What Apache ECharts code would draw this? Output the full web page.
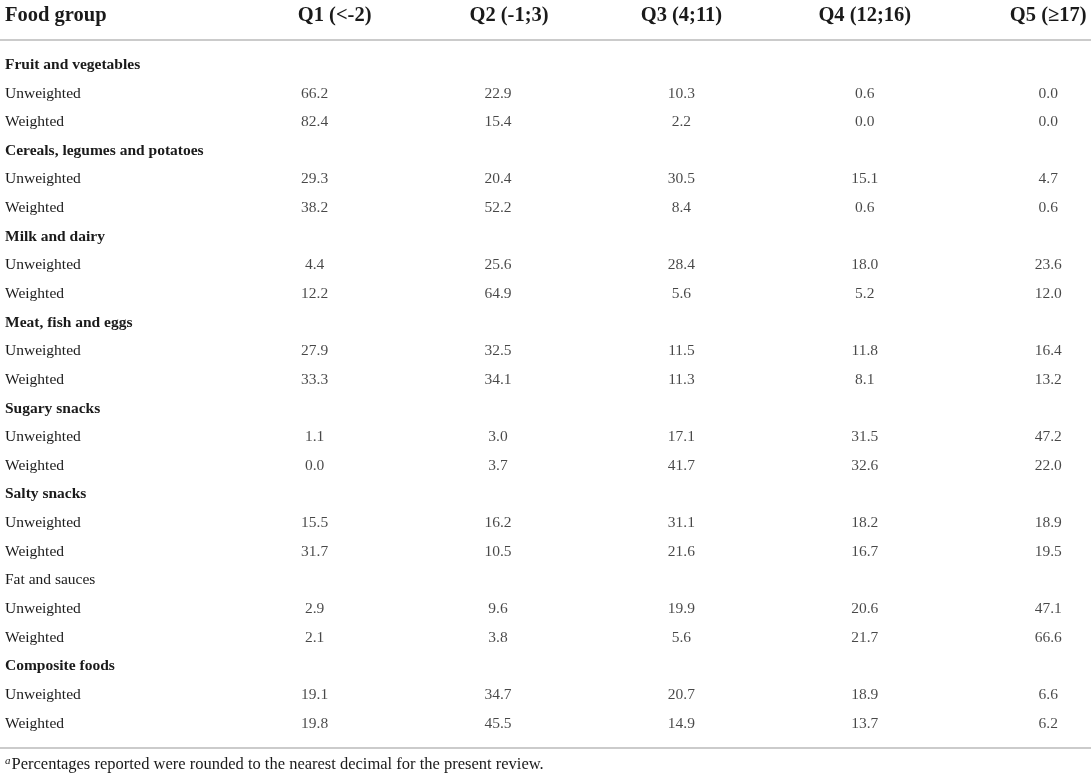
<!DOCTYPE html>
<html>
<head>
    <meta charset="utf-8">
    <title>Food group quintiles</title>
    <script src="https://cdn.jsdelivr.net/npm/echarts@6/dist/echarts.min.js"></script>
    <style>
        html, body { margin: 0; padding: 0; background: #fff; }
        #table { width: 1091px; height: 777px; }
    </style>
</head>
<body>
    <div id="table"></div>
    <script>
        // table content
        var quintiles = ['Q1 (<-2)', 'Q2 (-1;3)', 'Q3 (4;11)', 'Q4 (12;16)', 'Q5 (\u226517)'];
        var foodGroups = ['Fruit and vegetables', 'Cereals, legumes and potatoes', 'Milk and dairy',
            'Meat, fish and eggs', 'Sugary snacks', 'Salty snacks', 'Fat and sauces', 'Composite foods'];
        var boldGroups = [true, true, true, true, true, true, false, true];
        var unweighted = [
            [66.2, 22.9, 10.3, 0.6, 0.0],
            [29.3, 20.4, 30.5, 15.1, 4.7],
            [4.4, 25.6, 28.4, 18.0, 23.6],
            [27.9, 32.5, 11.5, 11.8, 16.4],
            [1.1, 3.0, 17.1, 31.5, 47.2],
            [15.5, 16.2, 31.1, 18.2, 18.9],
            [2.9, 9.6, 19.9, 20.6, 47.1],
            [19.1, 34.7, 20.7, 18.9, 6.6]
        ];
        var weighted = [
            [82.4, 15.4, 2.2, 0.0, 0.0],
            [38.2, 52.2, 8.4, 0.6, 0.6],
            [12.2, 64.9, 5.6, 5.2, 12.0],
            [33.3, 34.1, 11.3, 8.1, 13.2],
            [0.0, 3.7, 41.7, 32.6, 22.0],
            [31.7, 10.5, 21.6, 16.7, 19.5],
            [2.1, 3.8, 5.6, 21.7, 66.6],
            [19.8, 45.5, 14.9, 13.7, 6.2]
        ];
        var footnote = 'Percentages reported were rounded to the nearest decimal for the present review.';

        var serif = 'Liberation Serif';
        var ink = '#1a1a1a';
        var headSize = 20.5;
        var bodySize = 15.5;

        // rows: group name, Unweighted, Weighted
        var rowLabels = [];
        var rowBold = [];
        var cells = [];
        foodGroups.forEach(function (name, g) {
            var r = rowLabels.length;
            rowLabels.push(name, 'Unweighted', 'Weighted');
            rowBold.push(boldGroups[g], false, false);
            unweighted[g].forEach(function (v, c) { cells.push([c, r + 1, v]); });
            weighted[g].forEach(function (v, c) { cells.push([c, r + 2, v]); });
        });

        var chart = echarts.init(document.getElementById('table'), null, { renderer: 'canvas' });
        var option = {
            backgroundColor: '#fff',
            animation: false,
            title: [
                {
                    text: 'Food group',
                    left: 5, top: 5, padding: 0,
                    textStyle: { fontFamily: serif, fontSize: headSize, fontWeight: 'bold', color: ink }
                },
                {
                    text: '{sup|a}' + footnote,
                    left: 5, top: 756, padding: 0,
                    textStyle: {
                        fontFamily: serif, fontSize: 16.5, fontWeight: 'normal', color: ink,
                        rich: {
                            sup: { fontFamily: serif, fontSize: 11, fontStyle: 'italic', color: ink, verticalAlign: 'top', padding: [0, 1, 7, 0] }
                        }
                    }
                }
            ],
            grid: {
                left: 314.6, right: 42.8, top: 50.5, height: 687.4,
                containLabel: false, outerBoundsMode: 'none'
            },
            xAxis: {
                type: 'category',
                position: 'top',
                data: quintiles,
                boundaryGap: false,
                axisLine: { show: false },
                axisTick: { show: false },
                splitLine: { show: false },
                axisLabel: {
                    interval: 0,
                    margin: 24,
                    fontFamily: serif, fontSize: headSize, fontWeight: 'bold', color: ink,
                    formatter: function (v, i) {
                        if (i === 0) return '{q1|' + v + '}';
                        if (i === 1) return '{q2|' + v + '}';
                        return v;
                    },
                    rich: {
                        q1: { fontFamily: serif, fontSize: headSize, fontWeight: 'bold', color: ink, padding: [0, 0, 0, 40] },
                        q2: { fontFamily: serif, fontSize: headSize, fontWeight: 'bold', color: ink, padding: [0, 0, 0, 22] }
                    }
                }
            },
            yAxis: {
                type: 'category',
                inverse: true,
                data: rowLabels,
                offset: 314.6,
                axisLine: { show: false },
                axisTick: { show: false },
                splitLine: { show: false },
                axisLabel: {
                    interval: 0,
                    inside: true,
                    margin: 5,
                    align: 'left',
                    fontFamily: serif, fontSize: bodySize, color: ink,
                    formatter: function (v, i) {
                        return rowBold[i] ? '{g|' + v + '}' : v;
                    },
                    rich: {
                        g: { fontFamily: serif, fontSize: bodySize, fontWeight: 'bold', color: ink }
                    }
                }
            },
            graphic: [
                { type: 'line', shape: { x1: 0, y1: 40, x2: 1091, y2: 40 }, style: { stroke: '#cbcbcb', lineWidth: 1.8 } },
                { type: 'line', shape: { x1: 0, y1: 748, x2: 1091, y2: 748 }, style: { stroke: '#cbcbcb', lineWidth: 1.8 } }
            ],
            series: [
                {
                    type: 'scatter',
                    symbolSize: 0,
                    silent: true,
                    data: cells,
                    label: {
                        show: true,
                        position: 'inside',
                        fontFamily: serif, fontSize: bodySize, color: ink,
                        formatter: function (p) { return p.value[2].toFixed(1); }
                    }
                }
            ]
        };
        chart.setOption(option);
    </script>
</body>
</html>
